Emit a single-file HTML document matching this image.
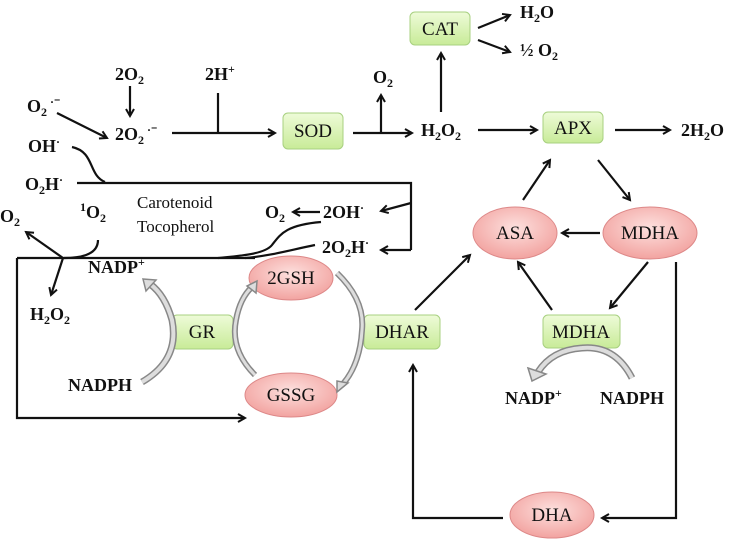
<!DOCTYPE html>
<html><head><meta charset="utf-8"><style>
html,body{margin:0;padding:0;background:#fff;}
svg{display:block;}
text{font-family:"Liberation Serif",serif;font-weight:bold;font-size:18px;fill:#111;}
.n{font-weight:normal;font-size:17px;}
.b text{font-weight:normal;font-size:19px;}
.l{stroke:#111;stroke-width:2.2;fill:none;}
</style></head><body>
<svg width="729" height="540" viewBox="0 0 729 540" xmlns="http://www.w3.org/2000/svg">
<defs>
<marker id="a" markerWidth="10" markerHeight="10" refX="8" refY="5" orient="auto" markerUnits="userSpaceOnUse"><path d="M1,1 L8,5 L1,9" fill="none" stroke="#111" stroke-width="2"/></marker>
<linearGradient id="g" x1="0" y1="0" x2="0" y2="1"><stop offset="0" stop-color="#eefbd8"/><stop offset="1" stop-color="#c8eb98"/></linearGradient>
<radialGradient id="r" cx="0.5" cy="0.4" r="0.6"><stop offset="0" stop-color="#fde0de"/><stop offset="1" stop-color="#f2a3a0"/></radialGradient>
</defs>

<g fill="url(#g)" stroke="#a8d080" stroke-width="1">
<rect x="410" y="12" width="60" height="33" rx="5"/>
<rect x="283" y="113" width="60" height="36" rx="5"/>
<rect x="543" y="112" width="60" height="31" rx="5"/>
<rect x="172" y="315" width="61" height="34" rx="5"/>
<rect x="364" y="315" width="76" height="34" rx="5"/>
<rect x="543" y="315" width="77" height="33" rx="5"/>
</g>
<g text-anchor="middle" class="b">
<text x="440" y="35">CAT</text>
<text x="313" y="137">SOD</text>
<text x="573" y="134">APX</text>
<text x="202" y="338">GR</text>
<text x="402" y="338">DHAR</text>
<text x="581" y="338">MDHA</text>
</g>
<g fill="url(#r)" stroke="#d88" stroke-width="1">
<ellipse cx="291" cy="278" rx="42" ry="22"/>
<ellipse cx="291" cy="395" rx="46" ry="22"/>
<ellipse cx="515" cy="233" rx="42" ry="26"/>
<ellipse cx="650" cy="233" rx="47" ry="26"/>
<ellipse cx="552" cy="515" rx="42" ry="23"/>
</g>
<g text-anchor="middle" class="b">
<text x="291" y="284">2GSH</text>
<text x="291" y="401">GSSG</text>
<text x="515" y="239">ASA</text>
<text x="650" y="239">MDHA</text>
<text x="552" y="521">DHA</text>
</g>

<text x="115" y="80">2O<tspan font-size="12" dy="4">2</tspan></text>
<path class="l" d="M130,86 L130,116" marker-end="url(#a)"/>
<text x="27" y="112">O<tspan font-size="12" dy="4">2</tspan><tspan font-size="12" dy="-10"> ·⁻</tspan></text>
<path class="l" d="M57,113 L107,138" marker-end="url(#a)"/>
<text x="115" y="140">2O<tspan font-size="12" dy="4">2</tspan><tspan font-size="12" dy="-10"> ·⁻</tspan></text>
<path class="l" d="M172,133 L275,133" marker-end="url(#a)"/>
<text x="205" y="80">2H<tspan font-size="12" dy="-7">+</tspan></text>
<path class="l" d="M218,93 L218,133"/>
<path class="l" d="M353,133 L412,133" marker-end="url(#a)"/>
<path class="l" d="M381,133 L381,95" marker-end="url(#a)"/>
<text x="373" y="83">O<tspan font-size="12" dy="4">2</tspan></text>
<text x="421" y="136">H<tspan font-size="12" dy="4">2</tspan><tspan dy="-4">O</tspan><tspan font-size="12" dy="4">2</tspan></text>
<path class="l" d="M441,112 L441,53" marker-end="url(#a)"/>
<path class="l" d="M478,28 L510,15" marker-end="url(#a)"/>
<path class="l" d="M478,40 L510,52" marker-end="url(#a)"/>
<text x="520" y="18">H<tspan font-size="12" dy="4">2</tspan><tspan dy="-4">O</tspan></text>
<text x="520" y="56">½ O<tspan font-size="12" dy="4">2</tspan></text>
<path class="l" d="M478,130 L537,130" marker-end="url(#a)"/>
<path class="l" d="M615,130 L670,130" marker-end="url(#a)"/>
<text x="681" y="136">2H<tspan font-size="12" dy="4">2</tspan><tspan dy="-4">O</tspan></text>

<path class="l" d="M598,160 L630,200" marker-end="url(#a)"/>
<path class="l" d="M523,200 L550,160" marker-end="url(#a)"/>
<path class="l" d="M600,233 L562,233" marker-end="url(#a)"/>
<path class="l" d="M648,262 L610,308" marker-end="url(#a)"/>
<path class="l" d="M552,310 L518,262" marker-end="url(#a)"/>
<path class="l" d="M415,310 L470,255" marker-end="url(#a)"/>
<path class="l" d="M676,262 L676,518 L602,518" marker-end="url(#a)"/>
<path class="l" d="M503,518 L413,518 L413,365" marker-end="url(#a)"/>
<path d="M632,378 Q615,345 582,348 Q552,350 538,372" fill="none" stroke="#888" stroke-width="7"/>
<path d="M632,378 Q615,345 582,348 Q552,350 538,372" fill="none" stroke="#ddd" stroke-width="4"/>
<path d="M528,368 L546,374 L532,381 Z" fill="#ddd" stroke="#888" stroke-width="1.5"/>
<text x="505" y="404">NADP<tspan font-size="12" dy="-7">+</tspan></text>
<text x="600" y="404">NADPH</text>

<text x="28" y="152">OH<tspan font-size="12" dy="-6">·</tspan></text>
<path class="l" d="M72,147 C95,152 88,175 105,182"/>
<text x="25" y="190">O<tspan font-size="12" dy="4">2</tspan><tspan dy="-4">H</tspan><tspan font-size="12" dy="-6">·</tspan></text>
<path class="l" d="M77,183 L411,183 L411,250"/>
<path class="l" d="M411,203 L381,211" marker-end="url(#a)"/>
<path class="l" d="M411,250 L381,250" marker-end="url(#a)"/>
<text x="323" y="218">2OH<tspan font-size="12" dy="-6">·</tspan></text>
<text x="265" y="218">O<tspan font-size="12" dy="4">2</tspan></text>
<path class="l" d="M320,212 L293,212" marker-end="url(#a)"/>
<text x="322" y="253">2O<tspan font-size="12" dy="4">2</tspan><tspan dy="-4">H</tspan><tspan font-size="12" dy="-6">·</tspan></text>
<path class="l" d="M321,222 C285,225 280,235 272,245 C265,254 240,256 218,258"/>
<path class="l" d="M315,245 C290,250 270,256 245,258"/>
<text class="n" x="137" y="208">Carotenoid</text>
<text class="n" x="137" y="232">Tocopherol</text>
<text x="80" y="218"><tspan font-size="12" dy="-7">1</tspan><tspan dy="7">O</tspan><tspan font-size="12" dy="4">2</tspan></text>
<path class="l" d="M98,240 C98,255 80,258 64,258"/>
<path class="l" d="M17,258 L255,258"/>
<path class="l" d="M17,258 L17,418 L245,418" marker-end="url(#a)"/>
<text x="0" y="222">O<tspan font-size="12" dy="4">2</tspan></text>
<path class="l" d="M63,258 L26,232" marker-end="url(#a)"/>
<path class="l" d="M63,258 L51,295" marker-end="url(#a)"/>
<text x="30" y="320">H<tspan font-size="12" dy="4">2</tspan><tspan dy="-4">O</tspan><tspan font-size="12" dy="4">2</tspan></text>
<text x="88" y="273">NADP<tspan font-size="12" dy="-7">+</tspan></text>
<text x="68" y="391">NADPH</text>

<g fill="none">
<path d="M142,382 Q180,360 172,320 Q165,295 150,284" stroke="#888" stroke-width="7"/>
<path d="M142,382 Q180,360 172,320 Q165,295 150,284" stroke="#ddd" stroke-width="4"/>
<path d="M255,375 Q230,350 236,320 Q240,298 252,287" stroke="#888" stroke-width="6"/>
<path d="M255,375 Q230,350 236,320 Q240,298 252,287" stroke="#ddd" stroke-width="3"/>
<path d="M337,273 Q365,300 362,330 Q360,365 342,385" stroke="#888" stroke-width="6"/>
<path d="M337,273 Q365,300 362,330 Q360,365 342,385" stroke="#ddd" stroke-width="3"/>
</g>
<path d="M143,279 L156,280 L146,291 Z" fill="#ddd" stroke="#888" stroke-width="1.5"/>
<path d="M257,281 L256,293 L247,286 Z" fill="#ddd" stroke="#888" stroke-width="1.5"/>
<path d="M337,392 L348,383 L337,381 Z" fill="#ddd" stroke="#888" stroke-width="1.5"/>
</svg>
</body></html>
